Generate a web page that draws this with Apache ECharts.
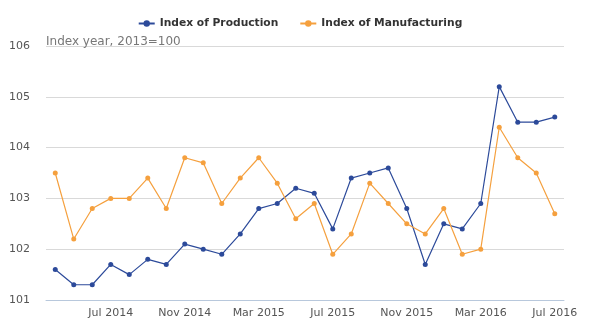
<!DOCTYPE html>
<html><head><meta charset="utf-8">
<script src="https://cdn.jsdelivr.net/npm/echarts@6/dist/echarts.min.js"></script>
<style>html,body{margin:0;padding:0;background:#fff}#c{width:600px;height:336px}</style>
</head><body><div id="c"></div>
<script>
const months = ['Apr 2014','May 2014','Jun 2014','Jul 2014','Aug 2014','Sep 2014','Oct 2014','Nov 2014','Dec 2014',
'Jan 2015','Feb 2015','Mar 2015','Apr 2015','May 2015','Jun 2015','Jul 2015','Aug 2015','Sep 2015','Oct 2015','Nov 2015','Dec 2015',
'Jan 2016','Feb 2016','Mar 2016','Apr 2016','May 2016','Jun 2016','Jul 2016'];
const production = [101.6,101.3,101.3,101.7,101.5,101.8,101.7,102.1,102.0,101.9,102.3,102.8,102.9,103.2,103.1,102.4,103.4,103.5,103.6,102.8,101.7,102.5,102.4,102.9,105.2,104.5,104.5,104.6];
const manufacturing = [103.5,102.2,102.8,103.0,103.0,103.4,102.8,103.8,103.7,102.9,103.4,103.8,103.3,102.6,102.9,101.9,102.3,103.3,102.9,102.5,102.3,102.8,101.9,102.0,104.4,103.8,103.5,102.7];
const yTicks = {min:101, max:106, interval:1};
const unitNote = 'Index year, 2013=100';

const chart = echarts.init(document.getElementById('c'), null, {renderer:'canvas'});
const showLabel = (i) => i % 4 === 3;
chart.setOption({
  animation:false,
  backgroundColor:'#fff',
  title:{text:unitNote, left:41, top:31, textStyle:{fontSize:12, fontWeight:'normal', color:'#777', fontFamily:'DejaVu Sans'}},
  legend:{top:13, left:'center', itemWidth:16, itemHeight:8, itemGap:21,
    textStyle:{fontSize:10.7, fontWeight:'bold', color:'#333', fontFamily:'DejaVu Sans'},
    data:['Index of Production','Index of Manufacturing']},
  grid:{left:46, right:36, top:46, bottom:36},
  xAxis:{type:'category', data:months, boundaryGap:true,
    axisLine:{lineStyle:{color:'#b8c8dc'}},
    axisTick:{alignWithLabel:true, interval:(i)=>showLabel(i), length:9, lineStyle:{color:'#b8c8dc'}},
    axisLabel:{interval:(i)=>showLabel(i), color:'#555', fontSize:11, fontFamily:'DejaVu Sans', margin:8}},
  yAxis:{type:'value', min:yTicks.min, max:yTicks.max, interval:yTicks.interval,
    axisLine:{show:false}, axisTick:{show:false},
    axisLabel:{color:'#555', fontSize:11, fontFamily:'DejaVu Sans', margin:16},
    splitLine:{lineStyle:{color:'#d9d9d9'}}},
  series:[
    {name:'Index of Production', type:'line', data:production, symbol:'circle', symbolSize:5,
     color:'#2c4a9a', lineStyle:{width:1.2}},
    {name:'Index of Manufacturing', type:'line', data:manufacturing, symbol:'circle', symbolSize:5,
     color:'#f5a03e', lineStyle:{width:1.2}}
  ]
});
</script></body></html>
